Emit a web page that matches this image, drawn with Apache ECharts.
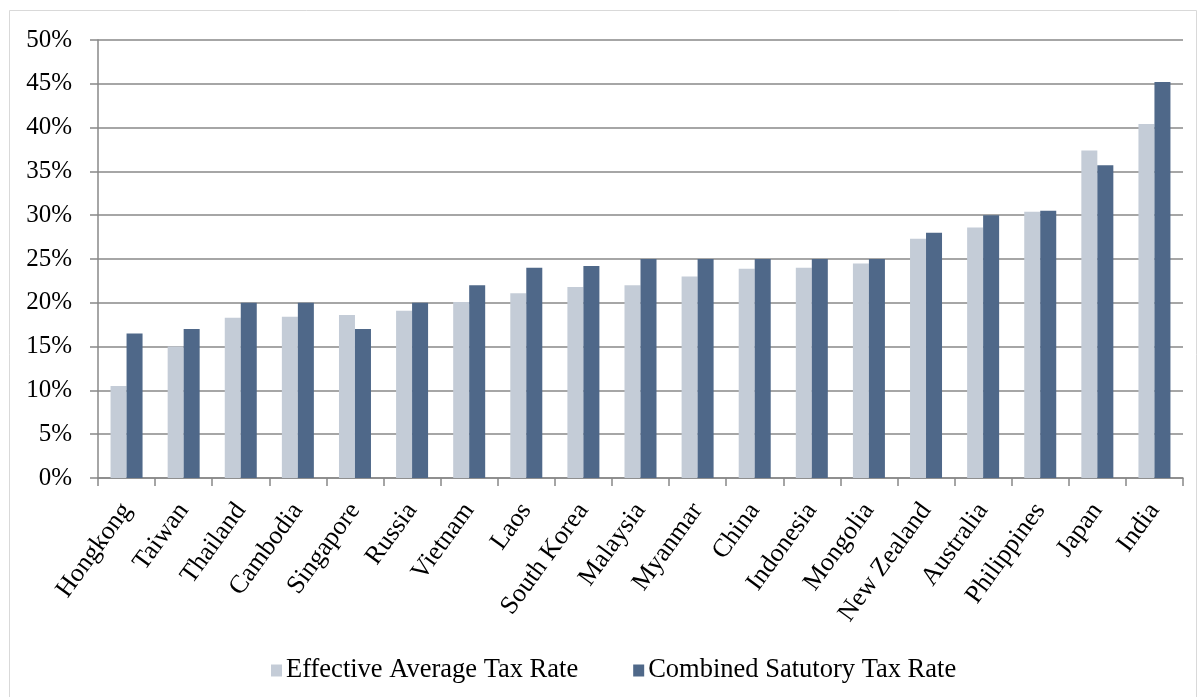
<!DOCTYPE html>
<html><head><meta charset="utf-8">
<script src="https://cdn.jsdelivr.net/npm/echarts@6/dist/echarts.min.js"></script>
<style>html,body{margin:0;padding:0;background:#fff}#c{width:1199px;height:697px}</style>
</head><body><div id="c"></div>
<script>
const categories = ["Hongkong","Taiwan","Thailand","Cambodia","Singapore","Russia","Vietnam","Laos","South Korea","Malaysia","Myanmar","China","Indonesia","Mongolia","New Zealand","Australia","Philippines","Japan","India"];
const effectiveRate = [10.5,15.0,18.3,18.4,18.6,19.1,20.1,21.1,21.8,22.0,23.0,23.9,24.0,24.5,27.3,28.6,30.4,37.4,40.4];
const statutoryRate = [16.5,17.0,20.0,20.0,17.0,20.0,22.0,24.0,24.2,25.0,25.0,25.0,25.0,25.0,28.0,30.0,30.5,35.7,45.2];
const seriesNames = ["Effective Average Tax Rate","Combined Satutory Tax Rate"];
const yTicks = {min:0, max:50, interval:5};

const font = "'Liberation Serif','Times New Roman',serif";
const chart = echarts.init(document.getElementById('c'));
chart.setOption({
  animation:false,
  backgroundColor:'#fff',
  graphic:[{type:'rect',shape:{x:9.5,y:10.5,width:1187,height:700},style:{fill:'none',stroke:'#d9d9d9',lineWidth:1}}],
  grid:{left:98,right:16,top:40,bottom:219,containLabel:false},
  legend:{top:652,left:266,itemWidth:11,itemHeight:12,itemGap:55,icon:'rect',
    textStyle:{fontFamily:font,fontSize:26.5,color:'#000',padding:[0,0,0,-1]},data:seriesNames},
  xAxis:{type:'category',data:categories,
    axisLine:{lineStyle:{color:'#888',width:1.5}},
    axisTick:{show:true,length:8,lineStyle:{color:'#888',width:1.5}},
    axisLabel:{rotate:54,interval:0,fontFamily:font,fontSize:26,color:'#000',margin:28}},
  yAxis:{type:'value',min:yTicks.min,max:yTicks.max,interval:yTicks.interval,
    axisLine:{show:true,lineStyle:{color:'#888',width:1.5}},
    axisTick:{show:true,length:8,lineStyle:{color:'#888',width:1.5}},
    splitLine:{lineStyle:{color:'#888',width:1.5}},
    axisLabel:{formatter:'{value}%',fontFamily:font,fontSize:25,color:'#000',margin:26}},
  series:[
    {name:seriesNames[0],type:'bar',data:effectiveRate,barWidth:16,barGap:'0%',itemStyle:{color:'#c4ccd7'}},
    {name:seriesNames[1],type:'bar',data:statutoryRate,barWidth:16,itemStyle:{color:'#4f6889'}}
  ]
});
</script></body></html>
